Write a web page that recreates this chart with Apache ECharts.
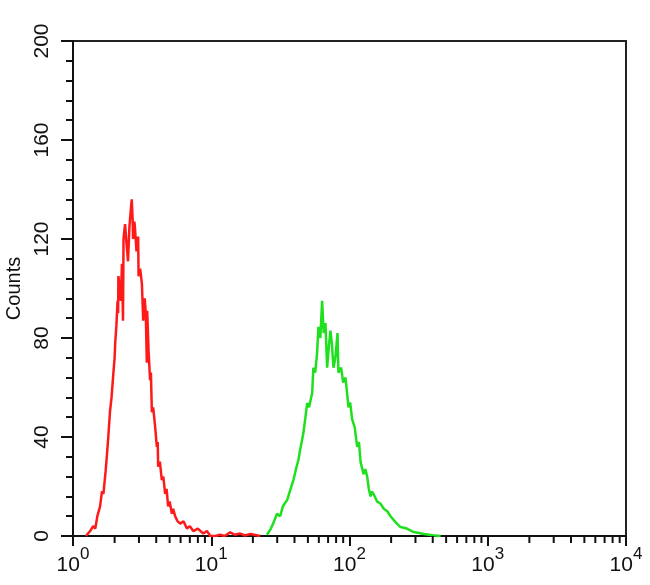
<!DOCTYPE html>
<html>
<head>
<meta charset="utf-8">
<script src="https://cdn.jsdelivr.net/npm/echarts@6/dist/echarts.min.js"></script>
<style>
html,body{margin:0;padding:0;background:#fff;}
#c{width:650px;height:585px;}
</style>
</head>
<body>
<div id="c"></div>
<script>
// Fluorescence intensity (log scale) vs counts
const redX = [1.24, 1.33, 1.40, 1.45, 1.50, 1.57, 1.62, 1.66, 1.72, 1.75, 1.80, 1.85, 1.90, 1.96, 2.00, 2.02, 2.06, 2.10, 2.12, 2.13, 2.18, 2.22, 2.26, 2.30, 2.32, 2.38, 2.44, 2.50, 2.56, 2.62, 2.66, 2.70, 2.72, 2.78, 2.81, 2.88, 2.96, 2.98, 3.06, 3.15, 3.22, 3.30, 3.36, 3.42, 3.44, 3.52, 3.61, 3.66, 3.72, 3.80, 3.93, 4.04, 4.10, 4.13, 4.25, 4.39, 4.50, 4.64, 4.75, 4.88, 5.0, 5.19, 5.3, 5.48, 5.7, 5.96, 6.3, 6.67, 7.0, 7.41, 8.0, 8.75, 9.3, 9.84, 10.7, 11.6, 12.5, 13.7, 14.8, 16.2, 17.5, 19.2, 22.6];
const redY = [0, 2, 4, 3, 8, 12, 18, 17, 26, 31, 40, 50, 56, 66, 72, 78, 85, 95, 90, 105, 100, 95, 110, 87, 120, 126, 118, 111, 125, 132, 136, 128, 120, 127, 124, 115, 121, 105, 108, 102, 87, 96, 90, 70, 91, 75, 63, 66, 50, 52, 44, 36, 38, 28, 30, 22.6, 24, 17, 19, 12, 14, 9, 11, 8, 6, 5, 6, 3, 4, 2, 3, 1, 2, 0, 0, 0.5, 0, 1.5, 0.5, 1, 0.2, 0.8, 0];
const greenX = [25.3, 27, 28.5, 29.9, 31.5, 33, 35.4, 37, 39.3, 41, 42.7, 44, 46.4, 48, 49.4, 51, 53.7, 54.8, 56.5, 58.3, 59.6, 61.5, 63.4, 65, 67.0, 68.9, 70.5, 72.8, 74.5, 76.6, 79, 81.9, 83.2, 87, 90, 93.5, 98.4, 101, 104.6, 109, 113.7, 117, 120.2, 126.3, 130, 134.3, 138, 141.9, 145, 149.3, 158, 167.9, 177, 187.6, 198, 208.4, 220, 234.2, 260, 291.2, 320, 343.8, 400, 456.4];
const greenY = [0.5, 3, 6, 9, 8, 12, 14.5, 18, 22.6, 27, 30.7, 35, 41.6, 48, 53.7, 52, 57.8, 68, 66, 74, 84.5, 80, 95, 82, 86, 68, 75, 83, 78, 68, 72, 82, 66, 68, 62, 64, 52, 54, 47, 44, 36, 38, 30, 25, 27, 24, 19, 16, 18, 17, 14, 13, 11, 10, 8, 6.5, 5, 3.6, 3, 1.6, 1.2, 0.8, 0.3, 0];
const yTicks = [0, 40, 80, 120, 160, 200];
const xDecades = [1, 10, 100, 1000, 10000];
const xMinorTicks = [2,3,4,5,6,7,8,9,20,30,40,50,60,70,80,90,200,300,400,500,600,700,800,900,2000,3000,4000,5000,6000,7000,8000,9000];

const zip = (xs, ys) => xs.map((x, i) => [x, ys[i]]);
const FONT = 'Liberation Sans, Arial, sans-serif';

const chart = echarts.init(document.getElementById('c'), null, {renderer: 'canvas'});
chart.setOption({
  animation: false,
  backgroundColor: '#fff',
  grid: {left: 73, right: 24, top: 41, bottom: 49, show: true, borderColor: '#222', borderWidth: 2,
         backgroundColor: 'transparent', containLabel: false, outerBoundsMode: 'none'},
  xAxis: {
    type: 'log', logBase: 10, min: xDecades[0], max: xDecades[xDecades.length - 1],
    axisLine: {show: true, lineStyle: {color: '#111', width: 2}},
    axisTick: {show: true, length: 10, lineStyle: {color: '#111', width: 2}},
    splitLine: {show: false},
    axisLabel: {
      margin: 10,
      formatter: v => '{b|10}{s|' + Math.round(Math.log10(v)) + '}',
      rich: {
        b: {fontSize: 21, fontFamily: FONT, color: '#111', lineHeight: 30, verticalAlign: 'bottom'},
        s: {fontSize: 17, fontFamily: FONT, color: '#111', lineHeight: 17, verticalAlign: 'top'}
      }
    }
  },
  yAxis: {
    type: 'value', min: yTicks[0], max: yTicks[yTicks.length - 1], interval: 40,
    name: 'Counts', nameLocation: 'middle', nameRotate: 90, nameGap: 49,
    nameTextStyle: {fontSize: 20, fontFamily: FONT, color: '#111'},
    axisLine: {show: true, lineStyle: {color: '#111', width: 2}},
    axisTick: {show: true, length: 12, lineStyle: {color: '#111', width: 2}},
    minorTick: {show: true, splitNumber: 5, length: 7, lineStyle: {color: '#111', width: 2}},
    splitLine: {show: false},
    minorSplitLine: {show: false},
    axisLabel: {rotate: 90, margin: 20, fontSize: 21, fontFamily: FONT, color: '#111'}
  },
  series: [
    {type: 'line', data: zip(redX, redY), showSymbol: false, symbol: 'none',
     lineStyle: {color: '#ff1a1a', width: 2.5}, z: 3},
    {type: 'line', data: zip(greenX, greenY), showSymbol: false, symbol: 'none',
     lineStyle: {color: '#1fe01f', width: 2.5}, z: 3},
    {type: 'custom', clip: false, silent: true, z: 5,
     data: xMinorTicks.map(v => [v, 0]),
     renderItem: (params, api) => {
       const p = api.coord([api.value(0), 0]);
       return {type: 'line', shape: {x1: p[0], y1: p[1], x2: p[0], y2: p[1] + 7},
               style: {stroke: '#111', lineWidth: 2}};
     }}
  ]
});
</script>
</body>
</html>
